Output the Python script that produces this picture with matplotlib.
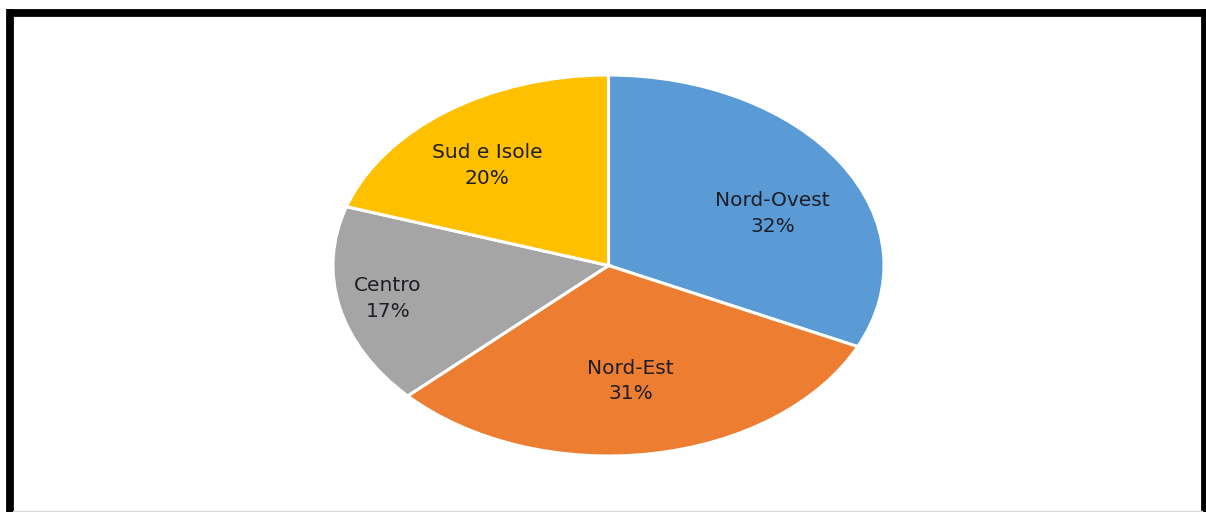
import numpy as np
import matplotlib
matplotlib.use("Agg")
import matplotlib.pyplot as plt
from matplotlib.lines import Line2D

# Data
regions = ["Nord-Ovest", "Nord-Est", "Centro", "Sud e Isole"]
shares = [32, 31, 17, 20]
colors = ["#5B9BD5", "#ED7D31", "#A5A5A5", "#FFC000"]

# label placement (style): radial distance and angular offset per slice
label_dist = [0.655, 0.61, 0.82, 0.685]
label_shift = [-7.8, -1.4, -0.4, 4.0]

W, H = 1206, 512
fig = plt.figure(figsize=(W / 100, H / 100), dpi=100)
fig.patch.set_facecolor("white")

ax = fig.add_axes([333 / W, 56 / H, 551 / W, 381 / H])
wedges, _ = ax.pie(shares, colors=colors, startangle=90, counterclock=False,
                   wedgeprops=dict(edgecolor="white", linewidth=2.2))
ax.set_aspect("auto")
ax.set_xlim(-1, 1)
ax.set_ylim(-1, 1)
ax.axis("off")

for w, name, val, d, s in zip(wedges, regions, shares, label_dist, label_shift):
    ang = np.deg2rad((w.theta1 + w.theta2) / 2 + s)
    ax.text(d * np.cos(ang), d * np.sin(ang), f"{name}\n{val}%",
            ha="center", va="center", fontsize=14.5, color="#1e1e28",
            family="DejaVu Sans", linespacing=1.42)

# figure frame (top, left, right)
lw = 5.6
fig.add_artist(Line2D([9.5 / W, 1206 / W], [1 - 13 / H, 1 - 13 / H],
                      transform=fig.transFigure, color="black", lw=lw,
                      solid_capstyle="butt"))
fig.add_artist(Line2D([9.5 / W, 9.5 / W], [0, 1 - 9 / H],
                      transform=fig.transFigure, color="black", lw=lw,
                      solid_capstyle="butt"))
fig.add_artist(Line2D([1204.5 / W, 1204.5 / W], [0, 1 - 9 / H],
                      transform=fig.transFigure, color="black", lw=lw,
                      solid_capstyle="butt"))
fig.add_artist(Line2D([13 / W, 1202 / W], [1.5 / H, 1.5 / H],
                      transform=fig.transFigure, color="#d9d9d9", lw=1))

fig.savefig("out.png", dpi=100, facecolor="white")
